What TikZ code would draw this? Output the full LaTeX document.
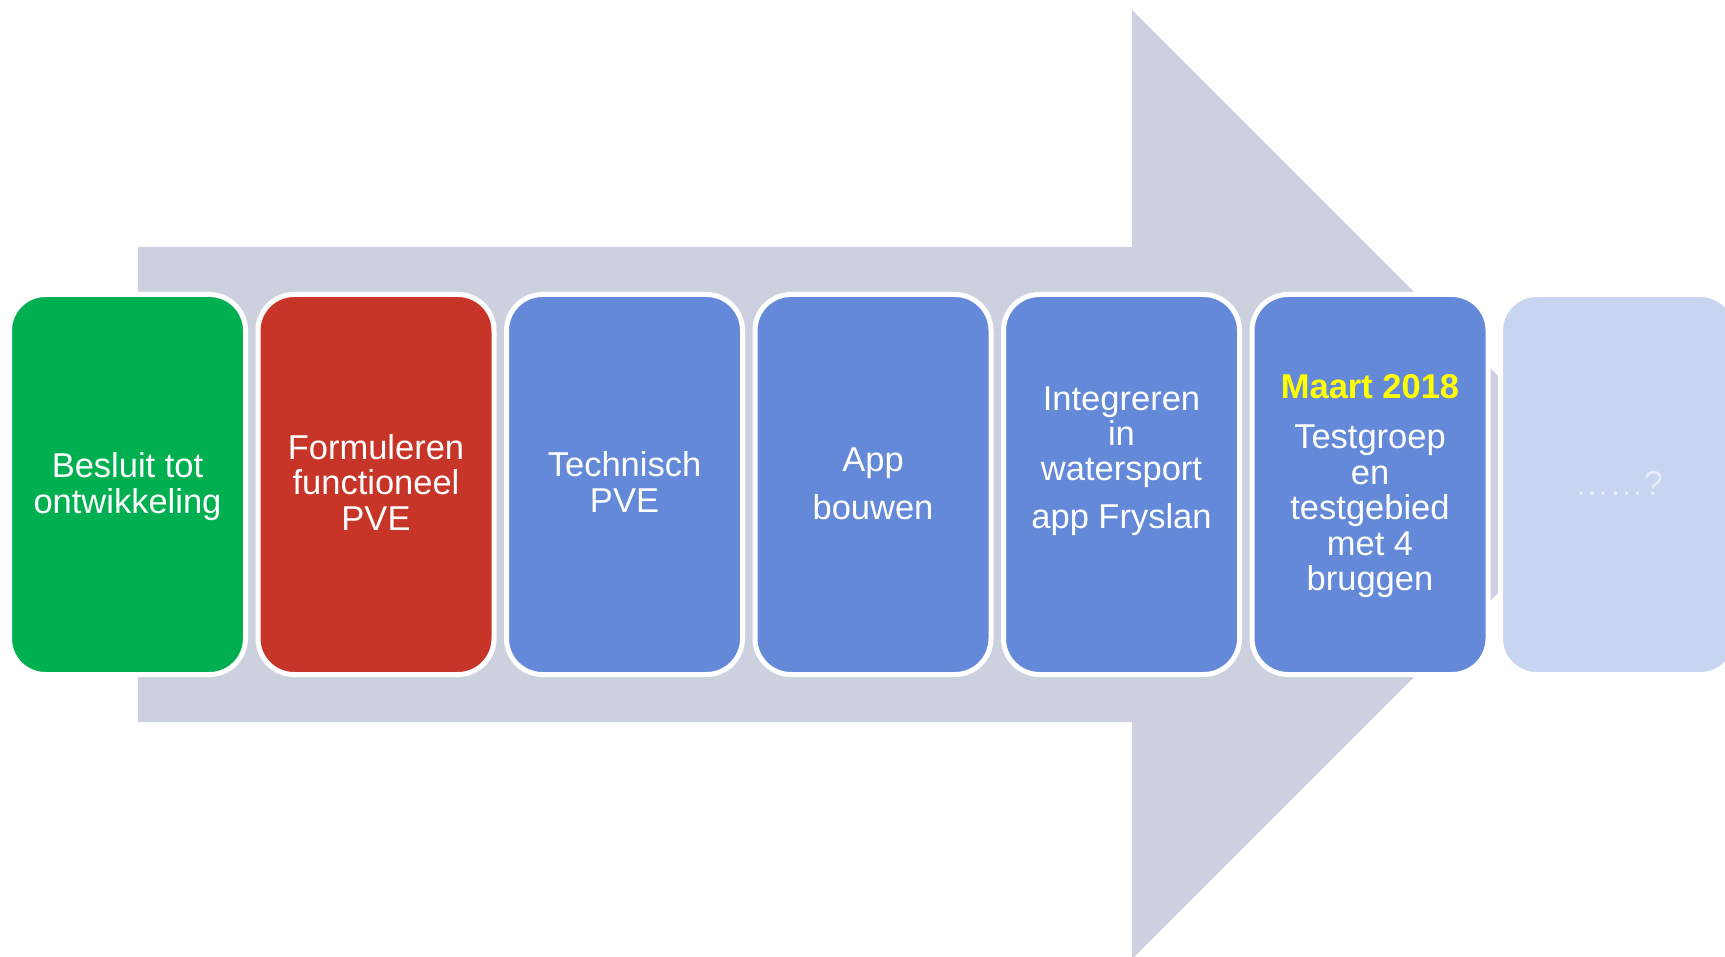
\documentclass[tikz,border=0pt]{standalone}
\usepackage{fontspec}
\setmainfont{Liberation Sans}
\definecolor{arrowgray}{HTML}{CDD1DF}
\definecolor{boxgreen}{HTML}{00B050}
\definecolor{boxred}{HTML}{C73428}
\definecolor{boxblue}{HTML}{6389D8}
\definecolor{boxpale}{HTML}{C7D5F0}
\definecolor{dotcolor}{HTML}{E6ECF8}
\definecolor{maartyellow}{HTML}{FFFF00}
\begin{document}
\begin{tikzpicture}[x=1pt,y=-1pt,
  stage/.style={draw=white, line width=5pt, rounded corners=36pt, minimum width=236pt, minimum height=380pt, inner sep=0pt, outer sep=0pt},
  steptext/.style={text=white, align=center, font=\fontsize{34.5}{35.5}\selectfont, inner sep=0pt, anchor=base}]
\useasboundingbox (0,0) rectangle (1725,957);
\begin{scope}
\clip (0,0) rectangle (1725,957);
\fill[arrowgray] (138,247) -- (1132,247) -- (1132,10) -- (1606.5,484.5) -- (1132,959) -- (1132,722) -- (138,722) -- cycle;
\node[stage, fill=boxgreen] (b1) at (127.5,484.5) {};
\node[stage, fill=boxred]   (b2) at (376,484.5) {};
\node[stage, fill=boxblue]  (b3) at (624.5,484.5) {};
\node[stage, fill=boxblue]  (b4) at (873,484.5) {};
\node[stage, fill=boxblue]  (b5) at (1121.5,484.5) {};
\node[stage, fill=boxblue]  (b6) at (1370,484.5) {};
\node[stage, fill=boxpale]  (b7) at (1618.5,484.5) {};
\node[steptext] (t1) at (127.5,513) {Besluit tot\\ontwikkeling};
\node[steptext] (t2) at (376,530) {Formuleren\\functioneel\\PVE};
\node[steptext] (t3) at (624.5,512) {Technisch\\PVE};
\node[steptext] (t4) at (873,519) {App\\[12.5pt]bouwen};
\node[steptext] (t5) at (1121.5,529) {Integreren\\in\\watersport\\[12.5pt]app Fryslan};
\node[steptext] (t6) at (1370,590.5) {\textcolor{maartyellow}{\bfseries Maart 2018}\\[14.5pt]Testgroep\\en\\testgebied\\met 4\\bruggen};
\node[steptext, text=dotcolor] (t7) at (1619,495) {……?};
\end{scope}
\end{tikzpicture}
\end{document}
